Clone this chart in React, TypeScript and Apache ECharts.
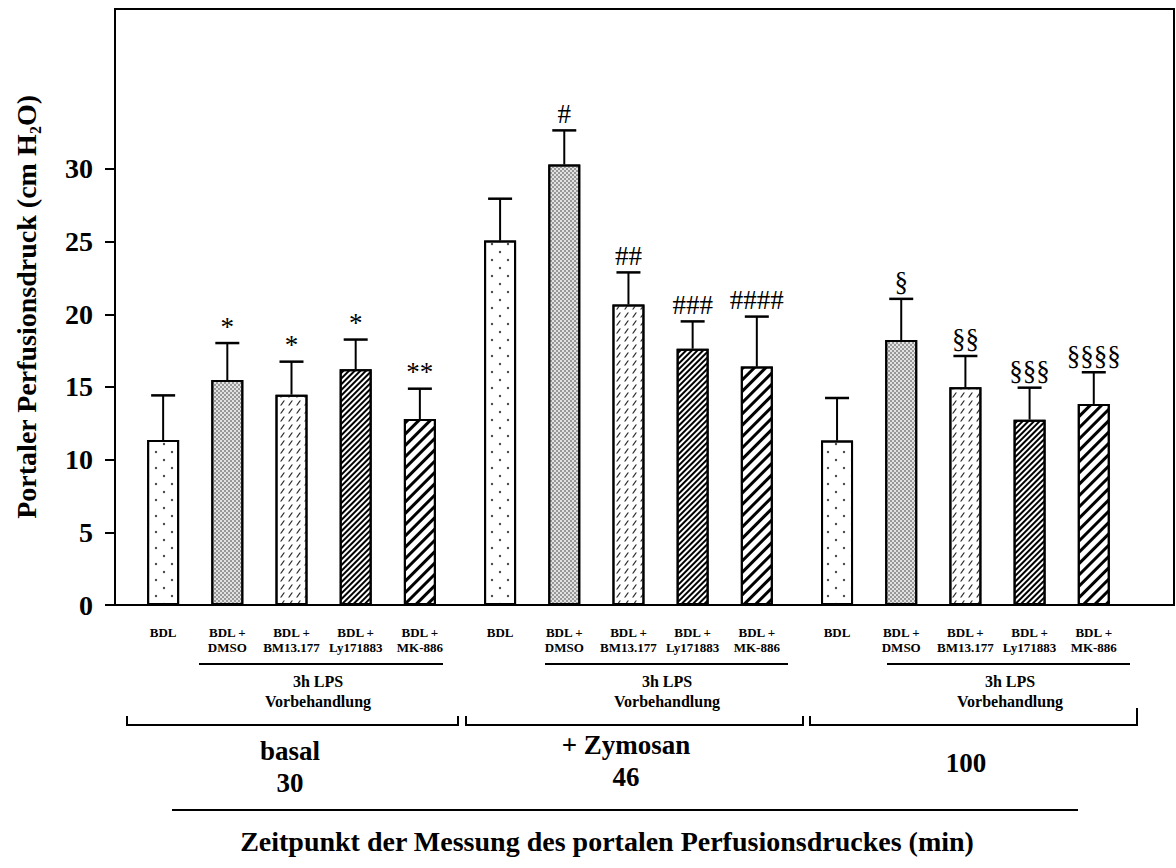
import React, { useEffect, useRef } from 'react';
import * as echarts from 'echarts';

const SERIF = '"Liberation Serif", "Times New Roman", serif';

// ---- data ----
const treatmentLabels = ['BDL', 'BDL +\nDMSO', 'BDL +\nBM13.177', 'BDL +\nLy171883', 'BDL +\nMK-886'];
const timepointLabels = ['basal\n30', '+ Zymosan\n46', '100'];
const pretreatLabel = '3h LPS\nVorbehandlung';
const yTickValues = [0, 5, 10, 15, 20, 25, 30];
const xTitle = 'Zeitpunkt der Messung des portalen Perfusionsdruckes (min)';

const meanBasal = [11.35, 15.47, 14.47, 16.21, 12.79];
const meanZymosan = [25.07, 30.3, 20.67, 17.63, 16.4];
const mean100 = [11.31, 18.23, 14.98, 12.75, 13.83];

const sdBasal = [3.07, 2.55, 2.27, 2.05, 2.09];
const sdZymosan = [2.88, 2.35, 2.21, 1.88, 3.44];
const sd100 = [2.93, 2.83, 2.15, 2.2, 2.18];

const marksBasal = ['', '*', '*', '*', '**'];
const marksZymosan = ['', '#', '##', '###', '####'];
const marks100 = ['', '§', '§§', '§§§', '§§§§'];

const means = [meanBasal, meanZymosan, mean100];
const sds = [sdBasal, sdZymosan, sd100];
const marks = [marksBasal, marksZymosan, marks100];

// ---- slot layout on the category axis ----
const SLOT_COUNT = 67;
const FIRST_SLOT = 3;
const BAR_STEP = 4;
const GROUP_STEP = 21;
const slotOf = (g: number, t: number) => FIRST_SLOT + g * GROUP_STEP + t * BAR_STEP;

const decals: any[] = [
  { symbol: 'circle', symbolSize: 0.3, color: '#444', dashArrayX: [[8, 8], [0, 8, 8, 0]], dashArrayY: [8, 0] },
  { symbol: 'rect', symbolSize: 0.7, color: '#555', dashArrayX: [[2, 2], [0, 2, 2, 0]], dashArrayY: [2, 0] },
  { symbol: 'path://M0,10 L3,10 L10,0 L7,0 Z', symbolSize: 1, color: '#333', dashArrayX: [[5, 3]], dashArrayY: [6, 1.5] },
  { symbol: 'rect', symbolSize: 1, color: '#000', dashArrayX: [1, 0], dashArrayY: [1.5, 1.7], rotation: -Math.PI / 4 },
  { symbol: 'rect', symbolSize: 1, color: '#000', dashArrayX: [1, 0], dashArrayY: [3, 4.8], rotation: -Math.PI / 4 },
];
const fills = ['#ffffff', '#e2e2e2', '#ffffff', '#ffffff', '#ffffff'];

function buildOption() {
  const categories = Array.from({ length: SLOT_COUNT }, (_, i) => String(i));
  const labelBySlot: Record<number, string> = {};
  means.forEach((_, g) => treatmentLabels.forEach((lab, t) => (labelBySlot[slotOf(g, t)] = lab)));

  const barSeries = treatmentLabels.map((name, t) => {
    const data: (number | null)[] = new Array(SLOT_COUNT).fill(null);
    means.forEach((row, g) => (data[slotOf(g, t)] = row[t]));
    return {
      type: 'bar',
      name,
      data,
      barWidth: 32,
      barGap: '-100%',
      itemStyle: { color: fills[t], borderColor: '#000', borderWidth: 2, decal: decals[t] },
      silent: true,
    };
  });

  const errData: number[][] = [];
  const errMarks: string[] = [];
  means.forEach((row, g) =>
    row.forEach((m, t) => {
      errData.push([slotOf(g, t), m, sds[g][t]]);
      errMarks.push(marks[g][t]);
    })
  );

  const errSeries = {
    type: 'custom',
    data: errData,
    encode: { x: 0, y: 1 },
    silent: true,
    z: 5,
    renderItem: (params: any, api: any) => {
      const x = api.value(0);
      const m = api.value(1);
      const s = api.value(2);
      const p0 = api.coord([x, m]);
      const p1 = api.coord([x, m + s]);
      return {
        type: 'group',
        children: [
          { type: 'line', shape: { x1: p0[0], y1: p0[1], x2: p1[0], y2: p1[1] }, style: { stroke: '#000', lineWidth: 2 } },
          { type: 'line', shape: { x1: p1[0] - 12, y1: p1[1], x2: p1[0] + 12, y2: p1[1] }, style: { stroke: '#000', lineWidth: 2.5 } },
          {
            type: 'text',
            x: p1[0],
            y: p1[1] - 3,
            style: {
              text: errMarks[params.dataIndex],
              fill: '#000',
              font: `normal 27px ${SERIF}`,
              textAlign: 'center',
              textVerticalAlign: 'bottom',
            },
          },
        ],
      };
    },
  };

  const line = (x1: number, y1: number, x2: number, y2: number) => ({
    type: 'line',
    silent: true,
    shape: { x1, y1, x2, y2 },
    style: { stroke: '#000', lineWidth: 2 },
  });
  const text = (s: string, x: number, y: number, size: number, lh: number) => ({
    type: 'text',
    silent: true,
    x,
    y,
    style: {
      text: s,
      fill: '#000',
      font: `bold ${size}px ${SERIF}`,
      lineHeight: lh,
      textAlign: 'center',
      textVerticalAlign: 'middle',
    },
  });

  const underlines = [[199, 443], [545, 788], [887, 1130]];
  const pretreatX = [318, 667, 1010];
  const brackets = [[127, 458], [466, 803], [810, 1137]];
  const tpX = [290, 626, 966];
  const tpY = [767, 761, 763];

  const graphics: any[] = [];
  underlines.forEach(([a, b]) => graphics.push(line(a, 664, b, 664)));
  pretreatX.forEach((x) => graphics.push(text(pretreatLabel, x, 691, 16, 20)));
  brackets.forEach(([a, b], i) =>
    graphics.push({
      type: 'polyline',
      silent: true,
      shape: { points: [[a, 716], [a, 725], [b, 725], [b, i === 2 ? 708 : 716]] },
      style: { stroke: '#000', lineWidth: 2, fill: null },
    })
  );
  timepointLabels.forEach((s, i) => graphics.push(text(s, tpX[i], tpY[i], 27, 32)));
  graphics.push(line(172, 810, 1078, 810));
  graphics.push(text(xTitle, 607, 841, 28, 32));

  return {
    animation: false,
    backgroundColor: '#fff',
    grid: { left: 115, right: 2, top: 9, bottom: 263, show: true, borderColor: '#000', borderWidth: 2, containLabel: false, outerBoundsMode: 'none' },
    xAxis: {
      type: 'category',
      data: categories,
      boundaryGap: false,
      axisLine: { lineStyle: { color: '#000', width: 2 } },
      axisTick: { show: false },
      axisLabel: {
        interval: 0,
        margin: 20,
        color: '#000',
        fontFamily: SERIF,
        fontWeight: 'bold',
        fontSize: 13,
        lineHeight: 15,
        formatter: (_v: string, idx: number) => labelBySlot[idx] || '',
      },
      splitLine: { show: false },
    },
    yAxis: {
      type: 'value',
      min: 0,
      max: 41,
      name: 'Portaler Perfusionsdruck (cm H{sub|2}O)',
      nameLocation: 'middle',
      nameGap: 72,
      nameTextStyle: {
        color: '#000',
        fontFamily: SERIF,
        fontWeight: 'bold',
        fontSize: 28,
        lineHeight: 34,
        rich: { sub: { fontFamily: SERIF, fontWeight: 'bold', fontSize: 16, lineHeight: 16, verticalAlign: 'bottom', color: '#000' } },
      },
      axisLine: { show: true, lineStyle: { color: '#000', width: 2 } },
      axisTick: { show: true, length: 10, customValues: yTickValues, lineStyle: { color: '#000', width: 2 } },
      axisLabel: { customValues: yTickValues, margin: 22, color: '#000', fontFamily: SERIF, fontWeight: 'bold', fontSize: 28 },
      splitLine: { show: false },
    },
    series: [...barSeries, errSeries],
    graphic: { elements: graphics },
  };
}

export default function App() {
  const ref = useRef<HTMLDivElement>(null);
  useEffect(() => {
    const chart = echarts.init(ref.current!, null, { renderer: 'svg' });
    chart.setOption(buildOption() as any);
    return () => chart.dispose();
  }, []);
  return <div ref={ref} style={{ position: 'absolute', left: 0, top: 0, width: 1176, height: 868, background: '#fff' }} />;
}
